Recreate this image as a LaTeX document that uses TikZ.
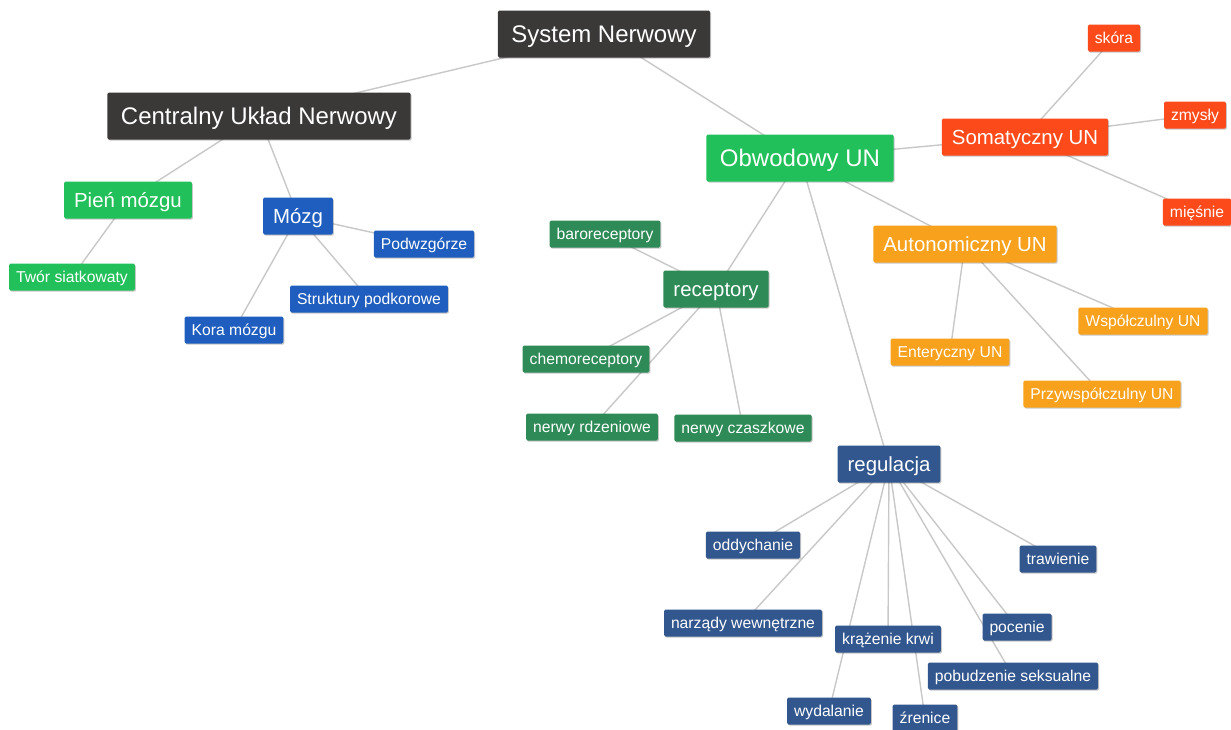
\documentclass[tikz,border=0pt]{standalone}
\usepackage{fontspec}
\setmainfont{Liberation Sans}
\usetikzlibrary{backgrounds,shadows}
\definecolor{cdark}{HTML}{3B3838}
\definecolor{cgreen}{HTML}{22C05B}
\definecolor{cblue}{HTML}{1F5EBE}
\definecolor{cdgreen}{HTML}{2E8B57}
\definecolor{cred}{HTML}{FC4A1A}
\definecolor{corange}{HTML}{F8A11C}
\definecolor{cnavy}{HTML}{32568E}
\definecolor{cedge}{HTML}{C8C8C8}
\tikzset{
  base/.style={text=white, rounded corners=1.5pt, inner sep=0pt, text depth=0pt,
    drop shadow={shadow xshift=1pt, shadow yshift=-1.2pt, fill=black, opacity=0.22}},
  big/.style={base, font=\fontsize{24}{24}\selectfont, text height=17.2pt,
    minimum height=47pt, inner xsep=13.5pt},
  mid/.style={base, font=\fontsize{20.4}{20.4}\selectfont, text height=14.7pt,
    minimum height=37pt, inner xsep=10pt},
  small/.style={base, font=\fontsize{15.7}{15.7}\selectfont, text height=11.3pt,
    minimum height=27pt, inner xsep=7pt},
  edge/.style={draw=cedge, line width=1.4pt}
}
\begin{document}
\begin{tikzpicture}[x=1pt,y=-1pt]
\useasboundingbox (0,0) rectangle (1231,729);
% main nodes
\node[big, fill=cdark] (sys) at (604,34) {System Nerwowy};
\node[big, fill=cdark] (cun) at (259,116) {Centralny Układ Nerwowy};
\node[mid, fill=cgreen] (pien) at (128,200) {Pień mózgu};
\node[small, fill=cgreen] (twor) at (72,277) {Twór siatkowaty};
\node[mid, fill=cblue] (mozg) at (298,216) {Mózg};
\node[small, fill=cblue] (podw) at (424,244) {Podwzgórze};
\node[small, fill=cblue] (strk) at (369,299) {Struktury podkorowe};
\node[small, fill=cblue] (kora) at (234,330) {Kora mózgu};
\node[big, fill=cgreen] (obw) at (800,158) {Obwodowy UN};
\node[mid, fill=cred] (som) at (1025,137) {Somatyczny UN};
\node[small, fill=cred] (skora) at (1114,38) {skóra};
\node[small, fill=cred] (zmys) at (1195,115) {zmysły};
\node[small, fill=cred] (mies) at (1197,212) {mięśnie};
\node[mid, fill=corange] (aut) at (965,244) {Autonomiczny UN};
\node[small, fill=corange] (wsp) at (1143,321) {Współczulny UN};
\node[small, fill=corange] (ent) at (950,352) {Enteryczny UN};
\node[small, fill=corange] (przy) at (1102,394) {Przywspółczulny UN};
\node[mid, fill=cdgreen] (rec) at (716,289) {receptory};
\node[small, fill=cdgreen] (baro) at (605,234) {baroreceptory};
\node[small, fill=cdgreen] (chemo) at (586,359) {chemoreceptory};
\node[small, fill=cdgreen] (rdz) at (592,427) {nerwy rdzeniowe};
\node[small, fill=cdgreen] (czasz) at (743,428) {nerwy czaszkowe};
\node[mid, fill=cnavy] (reg) at (889,464) {regulacja};
\node[small, fill=cnavy] (odd) at (753,545) {oddychanie};
\node[small, fill=cnavy] (traw) at (1058,559) {trawienie};
\node[small, fill=cnavy] (narz) at (743,623) {narządy wewnętrzne};
\node[small, fill=cnavy] (kraz) at (888,639) {krążenie krwi};
\node[small, fill=cnavy] (poc) at (1017,627) {pocenie};
\node[small, fill=cnavy] (pob) at (1013,676) {pobudzenie seksualne};
\node[small, fill=cnavy] (wyd) at (829,711) {wydalanie};
\node[small, fill=cnavy] (zren) at (925,718) {źrenice};
\begin{pgfonlayer}{background}
\fill[white] (0,0) rectangle (1231,729);
\foreach \a/\b in {sys/cun, sys/obw, cun/pien, cun/mozg, pien/twor,
  mozg/podw, mozg/strk, mozg/kora, obw/som, obw/aut, obw/rec, obw/reg,
  som/skora, som/zmys, som/mies, aut/wsp, aut/ent, aut/przy,
  rec/baro, rec/chemo, rec/rdz, rec/czasz,
  reg/odd, reg/traw, reg/narz, reg/kraz, reg/poc, reg/pob, reg/wyd, reg/zren}
  \draw[edge] (\a.center) -- (\b.center);
\end{pgfonlayer}
\end{tikzpicture}
\end{document}
